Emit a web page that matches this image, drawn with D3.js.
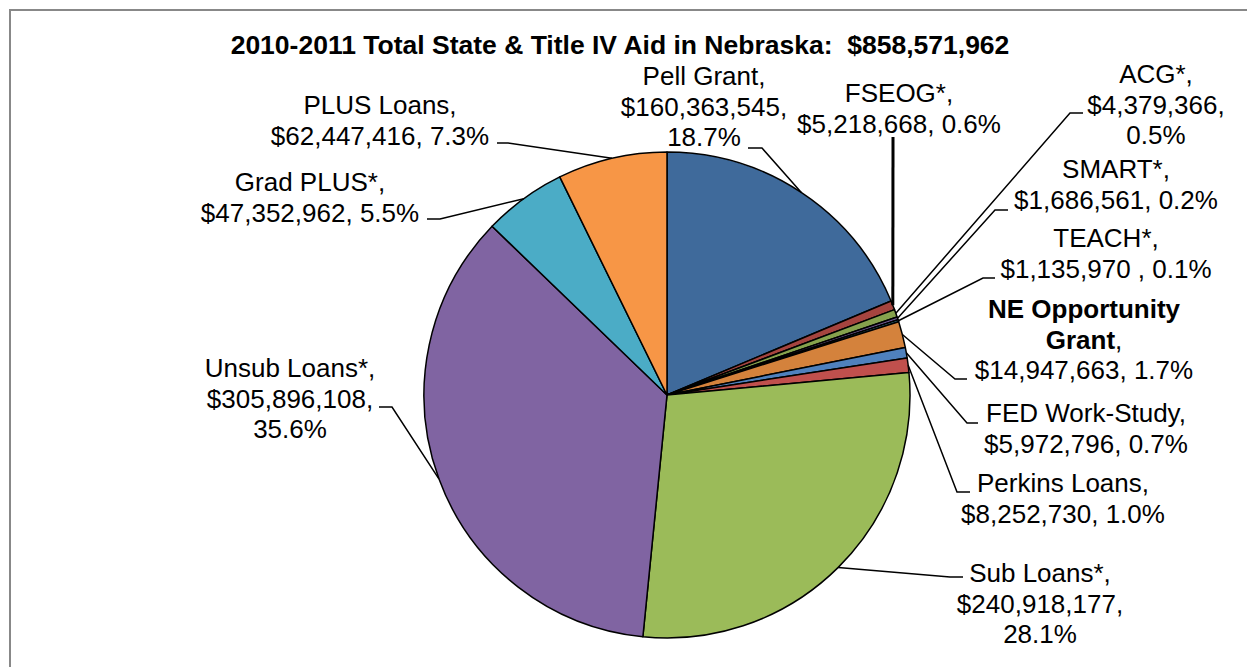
<!DOCTYPE html>
<html>
<head>
<meta charset="utf-8">
<script src="https://cdn.jsdelivr.net/npm/d3@7/dist/d3.min.js"></script>
<style>
  html, body { margin: 0; padding: 0; background: #fff; }
  svg { display: block; font-family: "Liberation Sans", Arial, sans-serif; }
</style>
</head>
<body>
<svg id="chart" width="1247" height="667"></svg>
<script>
// ---------- data ----------
const titleText = "2010-2011 Total State & Title IV Aid in Nebraska:  $858,571,962";
const categories = ["Pell Grant", "FSEOG*", "ACG*", "SMART*", "TEACH*", "NE Opportunity Grant",
  "FED Work-Study", "Perkins Loans", "Sub Loans*", "Unsub Loans*", "Grad PLUS*", "PLUS Loans"];
const amounts = [160363545, 5218668, 4379366, 1686561, 1135970, 14947663,
  5972796, 8252730, 240918177, 305896108, 47352962, 62447416];
const colors = ["#3F6A9B", "#A5443F", "#86A24D", "#6E5690", "#4195AB", "#D4823C",
  "#4F81BD", "#C0504D", "#9BBB59", "#8064A2", "#4BACC6", "#F79646"];

// ---------- layout (label placement, leader elbows) ----------
// pattern tokens: N = name, V = value, P = percent, B: = bold text
const labelLayout = [
  { cx: 704, y: 85,  lines: ["N,", "V,", "P"], elbow: [762, 148], end: 748 },
  { cx: 899, y: 102, lines: ["N,", "V, P"], elbow: [893, 137], end: 893 },
  { cx: 1156, y: 83, lines: ["N,", "V,", "P"], elbow: [1070, 113], end: 1083 },
  { cx: 1116, y: 178, lines: ["N,", "V, P"], elbow: [995, 210], end: 1008 },
  { cx: 1106, y: 247, lines: ["N,", "V , P"], elbow: [983, 278], end: 995 },
  { cx: 1084, y: 318, lines: ["B:NE Opportunity", "B:Grant|,", "V, P"], elbow: [955, 379], end: 967 },
  { cx: 1086, y: 422, lines: ["N,", "V, P"], elbow: [967, 423], end: 978 },
  { cx: 1063, y: 492, lines: ["N,", "V, P"], elbow: [957, 492], end: 970 },
  { cx: 1040, y: 582, lines: ["N,", "V,", "P"], elbow: [950, 577], end: 963 },
  { cx: 290, y: 377, lines: ["N,", "V,", "P"], elbow: [392, 407], end: 379 },
  { cx: 310, y: 191, lines: ["N,", "V, P"], elbow: [440, 219], end: 427 },
  { cx: 380, y: 114, lines: ["N,", "V, P"], elbow: [508, 143], end: 497 }
];

const W = 1247, H = 667;
const cx = 667, cy = 395, R = 243;
const lineH = 30.5;

const svg = d3.select("#chart");

// frame
svg.append("rect")
  .attr("x", 10).attr("y", 10).attr("width", 1300).attr("height", 700)
  .attr("fill", "none").attr("stroke", "#888").attr("stroke-width", 2);

// title
svg.append("text")
  .attr("x", 620).attr("y", 54)
  .attr("text-anchor", "middle")
  .attr("font-size", 26.5).attr("font-weight", "bold")
  .style("white-space", "pre")
  .attr("xml:space", "preserve")
  .text(titleText);

const total = d3.sum(amounts);
const data = categories.map((c, i) => ({ name: c, value: amounts[i], color: colors[i], layout: labelLayout[i] }));

const pie = d3.pie().sort(null).value(d => d.value).startAngle(0).endAngle(2 * Math.PI);
const arcs = pie(data);
const arc = d3.arc().innerRadius(0).outerRadius(R);
const edgeArc = d3.arc().innerRadius(R).outerRadius(R);

const g = svg.append("g").attr("transform", `translate(${cx},${cy})`);
g.selectAll("path.slice").data(arcs).enter().append("path")
  .attr("class", "slice")
  .attr("d", arc)
  .attr("fill", d => d.data.color)
  .attr("stroke", "#000")
  .attr("stroke-width", 1.5)
  .attr("stroke-linejoin", "round");

const fmtMoney = v => "$" + d3.format(",")(v);
const fmtPct = v => d3.format(".1f")(v / total * 100) + "%";

// leader lines
const line = d3.line();
arcs.forEach(a => {
  const L = a.data.layout;
  const mid = (a.startAngle + a.endAngle) / 2;
  const p0 = [cx + R * Math.sin(mid), cy - R * Math.cos(mid)];
  const pts = [p0, L.elbow, [L.end, L.elbow[1]]];
  svg.append("path")
    .attr("d", line(pts))
    .attr("fill", "none")
    .attr("stroke", "#000")
    .attr("stroke-width", a.index === 1 ? 3 : 1.5);
});

// labels
arcs.forEach(a => {
  const d = a.data, L = d.layout;
  const t = svg.append("text")
    .attr("text-anchor", "middle")
    .attr("font-size", 26)
    .attr("fill", "#000")
    .style("white-space", "pre")
    .attr("xml:space", "preserve");
  L.lines.forEach((pat, li) => {
    const y = L.y + li * lineH;
    if (pat.startsWith("B:")) {
      const parts = pat.slice(2).split("|");
      const ts = t.append("tspan").attr("x", L.cx).attr("y", y);
      ts.append("tspan").attr("font-weight", "bold").text(parts[0]);
      if (parts[1]) t.append("tspan").text(parts[1]);
    } else {
      const s = pat.replace("N", "\u0000").replace("V", "\u0001").replace("P", "\u0002")
        .replace("\u0000", d.name).replace("\u0001", fmtMoney(d.value)).replace("\u0002", fmtPct(d.value));
      t.append("tspan").attr("x", L.cx).attr("y", y).text(s);
    }
  });
});
</script>
</body>
</html>
